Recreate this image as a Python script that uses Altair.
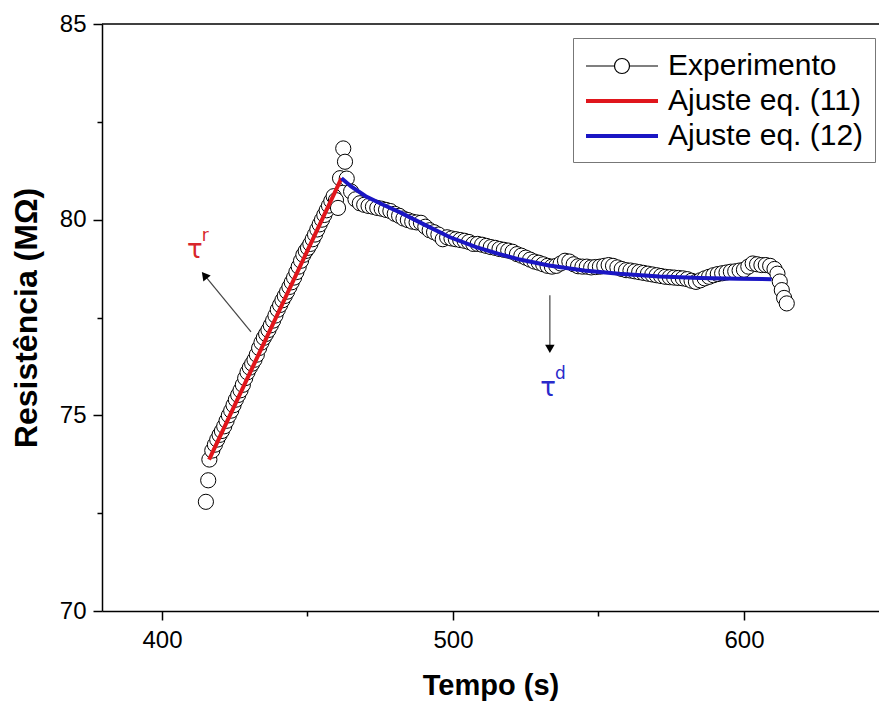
import altair as alt
import pandas as pd

# ---------------- data ----------------
rise_t = [415.1, 415.9, 416.3, 417.3, 418.2, 419.0, 419.8, 420.6, 421.4, 422.2,
          423.0, 423.8, 424.6, 425.4, 426.2, 427.0, 427.8, 428.6, 429.4, 430.2,
          431.0, 431.8, 432.6, 433.4, 434.2, 435.0, 435.8, 436.6, 437.4, 438.2,
          439.0, 439.8, 440.6, 441.4, 442.2, 443.0, 443.8, 444.6, 445.4, 446.2,
          447.0, 447.8, 448.6, 449.4, 450.2, 451.0, 451.8, 452.6, 453.4, 454.2,
          455.0, 455.8, 456.6, 457.4, 458.2, 459.0, 459.8, 460.5, 461.2, 462.3,
          462.9]
rise_r = [72.79, 73.34, 73.87, 74.10, 74.25, 74.38, 74.50, 74.60, 74.72, 74.86,
          75.00, 75.12, 75.26, 75.40, 75.52, 75.64, 75.78, 75.95, 76.10, 76.22,
          76.32, 76.42, 76.55, 76.72, 76.86, 76.98, 77.08, 77.18, 77.30, 77.42,
          77.55, 77.70, 77.82, 77.94, 78.05, 78.16, 78.28, 78.40, 78.52, 78.66,
          78.80, 78.95, 79.10, 79.20, 79.28, 79.38, 79.50, 79.62, 79.75, 79.88,
          80.00, 80.12, 80.24, 80.36, 80.48, 80.60, 80.50, 80.30, 81.06, 81.82,
          81.48]

decay_t = [463.5, 465.0, 466.5, 468.0, 469.5, 471.0, 472.5, 474.0, 475.5, 477.0,
           478.5, 480.0, 481.5, 483.0, 484.5, 486.0, 487.5, 489.0, 490.5, 492.0,
           493.5, 495.0, 496.5, 498.0, 499.5, 501.0, 502.5, 504.0, 505.5, 507.0,
           508.5, 510.0, 511.5, 513.0, 514.5, 516.0, 517.5, 519.0, 520.5, 522.0,
           523.5, 525.0, 526.5, 528.0, 529.5, 531.0, 532.5, 534.0, 535.5, 537.0,
           538.5, 540.0, 541.5, 543.0, 544.5, 546.0, 547.5, 549.0, 550.5, 552.0,
           553.5, 555.0, 556.5, 558.0, 559.5, 561.0, 562.5, 564.0, 565.5, 567.0,
           568.5, 570.0, 571.5, 573.0, 574.5, 576.0, 577.5, 579.0, 580.5, 582.0,
           583.5, 585.0, 586.5, 588.0, 589.5, 591.0, 592.5, 594.0, 595.5, 597.0,
           598.5, 600.0, 601.5, 603.0, 604.5, 606.0, 607.5, 609.0, 610.5, 611.5,
           612.3, 613.0, 613.8, 614.7]
decay_r = [81.05, 80.72, 80.52, 80.42, 80.38, 80.35, 80.33, 80.30, 80.28, 80.25,
           80.22, 80.15, 80.10, 80.03, 79.99, 79.95, 79.93, 79.92, 79.82, 79.73,
           79.68, 79.62, 79.50, 79.55, 79.52, 79.50, 79.48, 79.46, 79.43, 79.38,
           79.38, 79.36, 79.33, 79.30, 79.28, 79.25, 79.23, 79.21, 79.18, 79.12,
           79.08, 79.03, 78.98, 78.93, 78.90, 78.86, 78.82, 78.80, 78.82, 78.88,
           78.95, 78.93, 78.86, 78.81, 78.80, 78.80, 78.78, 78.79, 78.80, 78.82,
           78.84, 78.82, 78.78, 78.74, 78.71, 78.70, 78.68, 78.66, 78.64, 78.62,
           78.60, 78.58, 78.56, 78.54, 78.53, 78.52, 78.51, 78.50, 78.48, 78.44,
           78.41, 78.45, 78.50, 78.54, 78.58, 78.61, 78.63, 78.65, 78.67, 78.68,
           78.70, 78.72, 78.80, 78.88, 78.86, 78.84, 78.84, 78.82, 78.74, 78.62,
           78.42, 78.20, 78.00, 77.86]

fit11_t = [416.2, 438.0, 461.7]
fit11_r = [73.87, 77.31, 81.06]
fit12_t = [461.7, 465.0, 470.0, 476.0, 482.0, 490.0, 499.0, 508.0, 516.0,
           523.0, 533.0, 545.0, 557.0, 571.0, 585.0, 598.0, 609.5]
fit12_r = [81.06, 80.85, 80.60, 80.38, 80.18, 79.88, 79.55, 79.30, 79.12,
           78.98, 78.83, 78.70, 78.62, 78.55, 78.51, 78.49, 78.48]

series_names = ["Experimento", "Ajuste eq. (11)", "Ajuste eq. (12)"]
series_colors = ["#000000", "#E0161C", "#1A16C4"]
series_widths = [1.2, 4, 4]

x_ticks = [400, 450, 500, 550, 600]
y_ticks = [70, 72.5, 75, 77.5, 80, 82.5, 85]
x_domain = [379.4, 646.4]
y_domain = [70, 85]
frame_top = [85]

# annotations (tau labels and arrows), anchored in data units
tau_text = ["τ", "τ"]
tau_sup = ["r", "d"]
tau_t = [411.3, 532.7]
tau_r = [79.22, 75.69]
tau_colors = ["#D8262B", "#2A2ACB"]
arrow_t0 = [430.6, 533.3]
arrow_r0 = [77.13, 78.07]
arrow_t1 = [414.6, 533.3]
arrow_r1 = [78.58, 76.70]
arrow_angle = [321, 180]

# ---------------- tables ----------------
exp_df = pd.DataFrame({"t": rise_t + decay_t, "R": rise_r + decay_r})
exp_df["series"] = series_names[0]
fit_df = pd.concat([
    pd.DataFrame({"t": fit11_t, "R": fit11_r, "series": series_names[1]}),
    pd.DataFrame({"t": fit12_t, "R": fit12_r, "series": series_names[2]}),
], ignore_index=True)
legend_df = pd.DataFrame({"series": series_names})
tau_df = pd.DataFrame({"t": tau_t, "R": tau_r, "txt": tau_text, "sup": tau_sup, "col": tau_colors})
arrow_df = pd.DataFrame({"t": arrow_t0, "R": arrow_r0, "t1": arrow_t1, "R1": arrow_r1, "angle": arrow_angle})
frame_df = pd.DataFrame({"R": frame_top})

FONT = "Liberation Sans"
xs = alt.Scale(domain=x_domain, nice=False, zero=False)
ys = alt.Scale(domain=y_domain, nice=False, zero=False)
cs = alt.Scale(domain=series_names, range=series_colors)
ws = alt.Scale(type="ordinal", domain=series_names, range=series_widths)

# legend symbols: nominal symbol box is 32 px (unit = 16 px); paths run from -1 to 3.5 units (72 px)
EXP_PATH = ("M-1,0L0.78,0M1.72,0L3.5,0M1.72,0A0.47,0.47,0,1,1,0.78,0"
            "A0.47,0.47,0,1,1,1.72,0")
LINE_PATH = "M-1,0L3.5,0"
shs = alt.Scale(domain=series_names, range=[EXP_PATH, LINE_PATH, LINE_PATH])

major_size = 9
minor_size = 5
x_axis = alt.Axis(
    values=x_ticks, grid=False, title="Tempo (s)",
    labelExpr="datum.value % 100 === 0 ? format(datum.value, 'd') : ''",
    tickSize={"condition": {"test": "datum.value % 100 === 0", "value": major_size}, "value": minor_size},
    domainColor="black", domainWidth=1.5, tickColor="black", tickWidth=1.5,
    labelFont=FONT, labelFontSize=24, labelColor="black", labelPadding=8,
    titleFont=FONT, titleFontSize=29, titleFontWeight="bold", titleColor="black", titlePadding=19,
)
y_axis = alt.Axis(
    values=y_ticks, grid=False, title="Resistência (MΩ)",
    labelExpr="datum.value % 5 === 0 ? format(datum.value, 'd') : ''",
    tickSize={"condition": {"test": "datum.value % 5 === 0", "value": major_size}, "value": minor_size},
    domainColor="black", domainWidth=1.5, tickColor="black", tickWidth=1.5,
    labelFont=FONT, labelFontSize=24, labelColor="black", labelPadding=7,
    titleFont=FONT, titleFontSize=32, titleFontWeight="bold", titleColor="black", titlePadding=16,
)

legend = alt.Legend(
    title=None, orient="none", legendX=471, legendY=14,
    labelFont=FONT, labelFontSize=30, labelColor="black", labelOffset=48, labelLimit=500,
    symbolSize=1024, symbolFillColor="white",
    strokeColor="#777777", fillColor="white", padding=11, rowPadding=2,
)

X = lambda f: alt.X(f, scale=xs, axis=x_axis)
Y = lambda f: alt.Y(f, scale=ys, axis=y_axis)

points = alt.Chart(exp_df).mark_point(
    shape="circle", filled=False, fill="white", fillOpacity=1, strokeWidth=1,
    size=230, opacity=1,
).encode(
    x=X("t:Q"), y=Y("R:Q"),
    color=alt.Color("series:N", scale=cs, legend=legend),
)

fits = alt.Chart(fit_df).mark_line().encode(
    x=X("t:Q"), y=Y("R:Q"),
    color=alt.Color("series:N", scale=cs, legend=legend),
    strokeWidth=alt.StrokeWidth("series:N", scale=ws, legend=legend),
)

# legend-only layer: gives each legend entry its symbol (size 0, so nothing is drawn)
legend_layer = alt.Chart(legend_df).mark_point(filled=False, size=0).encode(
    color=alt.Color("series:N", scale=cs, legend=legend),
    shape=alt.Shape("series:N", scale=shs, legend=legend),
    strokeWidth=alt.StrokeWidth("series:N", scale=ws, legend=legend),
)

frame = alt.Chart(frame_df).mark_rule(color="black", strokeWidth=1.5).encode(
    y=Y("R:Q"),
)

arrows = alt.Chart(arrow_df).mark_rule(color="#444444", strokeWidth=1.2).encode(
    x=X("t:Q"), y=Y("R:Q"), x2="t1:Q", y2="R1:Q",
)
heads = alt.Chart(arrow_df).mark_point(shape="triangle-up", filled=True, color="black",
                                       size=90, opacity=1).encode(
    x=X("t1:Q"), y=Y("R1:Q"),
    angle=alt.Angle("angle:Q", scale=None),
)
tau = alt.Chart(tau_df).mark_text(font="DejaVu Sans", fontSize=26, baseline="middle",
                                  align="center").encode(
    x=X("t:Q"), y=Y("R:Q"),
    text="txt:N", color=alt.Color("col:N", scale=None),
)
tau_s = alt.Chart(tau_df).mark_text(font="DejaVu Sans", fontSize=17, baseline="middle",
                                    align="left", dx=7, dy=-14).encode(
    x=X("t:Q"), y=Y("R:Q"),
    text="sup:N", color=alt.Color("col:N", scale=None),
)

chart = alt.layer(points, fits, legend_layer, frame, arrows, heads, tau, tau_s).properties(
    width=777, height=587,
    autosize=alt.AutoSizeParams(type="none"),
    padding={"left": 102, "top": 24, "right": 0, "bottom": 92},
    background="white",
).configure_view(stroke=None)

chart.save("out.html", embed_options={"renderer": "svg", "actions": False})
